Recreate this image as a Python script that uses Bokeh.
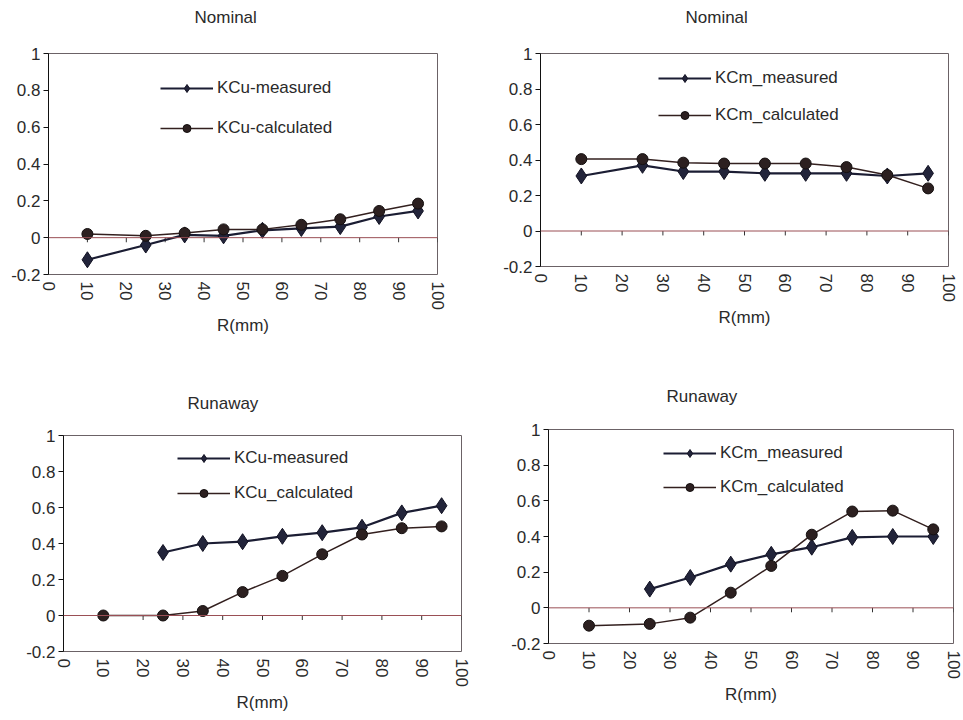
from bokeh.plotting import figure
from bokeh.layouts import column, row
from bokeh.models import (Legend, LegendItem, FixedTicker, CustomJSTickFormatter,
                          Span, Title)
from bokeh.embed import file_html
from bokeh.resources import INLINE

# ---------------- data ----------------
r_mm = [10, 25, 35, 45, 55, 65, 75, 85, 95]
r_mm_run = [25, 35, 45, 55, 65, 75, 85, 95]

nom_kcu_measured = [-0.12, -0.04, 0.015, 0.01, 0.04, 0.05, 0.06, 0.115, 0.145]
nom_kcu_calculated = [0.02, 0.01, 0.025, 0.045, 0.045, 0.07, 0.10, 0.145, 0.185]

nom_kcm_measured = [0.31, 0.37, 0.335, 0.335, 0.325, 0.325, 0.325, 0.31, 0.325]
nom_kcm_calculated = [0.405, 0.405, 0.385, 0.38, 0.38, 0.38, 0.36, 0.315, 0.24]

run_kcu_measured = [0.35, 0.40, 0.41, 0.44, 0.46, 0.49, 0.57, 0.61]
run_kcu_calculated = [0.0, 0.0, 0.025, 0.13, 0.22, 0.34, 0.45, 0.485, 0.495]

run_kcm_measured = [0.105, 0.17, 0.245, 0.30, 0.34, 0.395, 0.40, 0.40]
run_kcm_calculated = [-0.10, -0.09, -0.055, 0.085, 0.235, 0.41, 0.54, 0.545, 0.44]

x_ticks = [0, 10, 20, 30, 40, 50, 60, 70, 80, 90, 100]
y_ticks = [-0.2, 0.0, 0.2, 0.4, 0.6, 0.8, 1.0]
x_label = "R(mm)"

FONT = "Liberation Sans"
MEAS_COLOR = "#1b1d33"
CALC_COLOR = "#33201f"
TEXT_COLOR = "#2a2a2a"


def make_panel(title, x_meas, y_meas, x_calc, y_calc, name_meas, name_calc,
               frame_w, frame_h, b_left, b_top, b_right, b_bottom,
               title_left, title_gap, leg_loc, leg_spacing):
    p = figure(frame_width=frame_w, frame_height=frame_h,
               x_range=(0, 100), y_range=(-0.2, 1.0),
               output_backend="svg", toolbar_location=None,
               min_border_left=b_left, min_border_top=b_top,
               min_border_right=b_right, min_border_bottom=b_bottom,
               background_fill_color="white", border_fill_color="white")
    p.frame_align = False

    # visible title (the plot's own title sits outermost in the top panel)
    p.title.text = title
    p.title.align = "left"
    p.title.offset = title_left
    p.title.standoff = 0
    p.title.text_font = FONT
    p.title.text_font_size = "17px"
    p.title.text_font_style = "normal"
    p.title.text_color = TEXT_COLOR
    # white 1px spacer between the plot area and the title
    p.add_layout(Title(text=".", text_font_size="1px", text_color="white",
                       standoff=title_gap), "above")

    p.grid.visible = False
    p.outline_line_color = "#6b6266"
    p.outline_line_width = 1

    # y axis
    p.yaxis.ticker = FixedTicker(ticks=y_ticks)
    p.yaxis.formatter = CustomJSTickFormatter(
        code="return tick.toFixed(1).replace(/\\.0$/, '');")
    p.yaxis.minor_tick_line_color = None
    p.yaxis.major_tick_out = 5
    p.yaxis.major_tick_in = 0
    p.yaxis.axis_line_color = "#111111"
    p.yaxis.major_tick_line_color = "#111111"
    p.yaxis.major_label_text_font = FONT
    p.yaxis.major_label_text_font_size = "17px"
    p.yaxis.major_label_text_color = TEXT_COLOR
    p.yaxis.major_label_standoff = 3

    # x axis (labels only, at the bottom)
    p.xaxis.ticker = FixedTicker(ticks=x_ticks)
    p.xaxis.major_label_orientation = "vertical"
    p.xaxis.minor_tick_line_color = None
    p.xaxis.major_tick_line_color = None
    p.xaxis.major_tick_out = 0
    p.xaxis.major_tick_in = 0
    p.xaxis.axis_line_color = None
    p.xaxis.major_label_text_font = FONT
    p.xaxis.major_label_text_font_size = "17px"
    p.xaxis.major_label_text_color = TEXT_COLOR
    p.xaxis.major_label_standoff = 7
    p.xaxis.axis_label = x_label
    p.xaxis.axis_label_text_font = FONT
    p.xaxis.axis_label_text_font_size = "17px"
    p.xaxis.axis_label_text_font_style = "normal"
    p.xaxis.axis_label_text_color = TEXT_COLOR
    p.xaxis.axis_label_standoff = 3

    # zero line with tick marks (category axis crossing at 0)
    p.add_layout(Span(location=0, dimension="width", line_color="#9a4f55",
                      line_width=1))
    p.segment(x0=x_ticks, y0=[0] * len(x_ticks), x1=x_ticks,
              y1=[-0.025] * len(x_ticks), line_color="#333333", line_width=1)

    lm = p.line(x_meas, y_meas, line_color=MEAS_COLOR, line_width=2.2)
    sm = p.scatter(x_meas, y_meas, marker="diamond", size=16,
                   fill_color="#22243a", line_color="#111122")
    lc = p.line(x_calc, y_calc, line_color=CALC_COLOR, line_width=1.5)
    sc = p.scatter(x_calc, y_calc, marker="circle", size=11,
                   fill_color="#2c2020", line_color="#151010")

    legend = Legend(items=[LegendItem(label=name_meas, renderers=[lm, sm]),
                           LegendItem(label=name_calc, renderers=[lc, sc])],
                    location=leg_loc, orientation="vertical",
                    background_fill_alpha=0, border_line_color=None,
                    padding=0, margin=0, spacing=leg_spacing,
                    glyph_width=53, glyph_height=20, label_height=20,
                    label_standoff=4,
                    label_text_font=FONT, label_text_font_size="17px",
                    label_text_color=TEXT_COLOR)
    p.add_layout(legend)
    return p


p1 = make_panel("Nominal", r_mm, nom_kcu_measured, r_mm, nom_kcu_calculated,
                "KCu-measured", "KCu-calculated",
                389, 221, 48, 53, 63, 104, 146, 23.8, (112, 136), 20)
p2 = make_panel("Nominal", r_mm, nom_kcm_measured, r_mm, nom_kcm_calculated,
                "KCm_measured", "KCm_calculated",
                408, 213, 40, 53, 15, 112, 145, 23.8, (118, 141), 17)
p3 = make_panel("Runaway", r_mm_run, run_kcu_measured, r_mm, run_kcu_calculated,
                "KCu-measured", "KCu_calculated",
                398, 216, 63, 57, 39, 66, 124, 19.8, (114, 148), 15)
p4 = make_panel("Runaway", r_mm_run, run_kcm_measured, r_mm, run_kcm_calculated,
                "KCm_measured", "KCm_calculated",
                405, 214, 48, 51, 10, 74, 118, 21.3, (115, 146), 14)

layout = column(row(p1, p2), row(p3, p4))

open("out.html", "w").write(file_html(layout, INLINE))
